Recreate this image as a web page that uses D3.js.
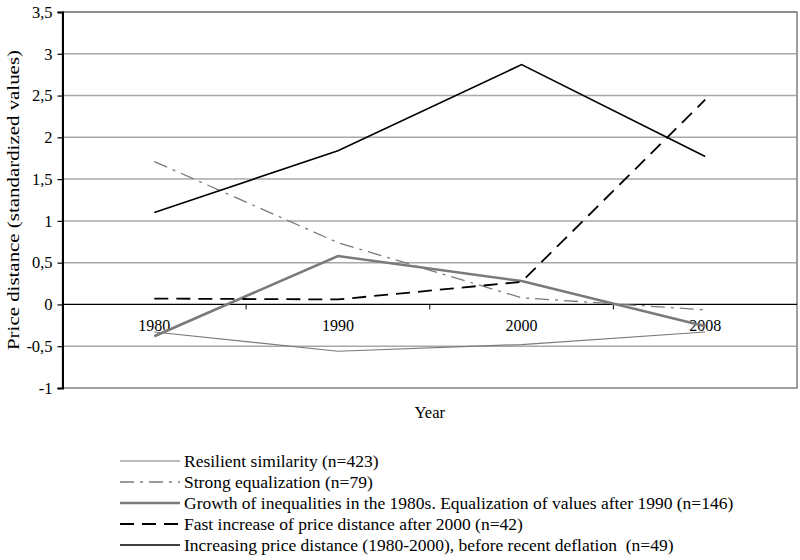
<!DOCTYPE html>
<html>
<head>
<meta charset="utf-8">
<script src="https://cdn.jsdelivr.net/npm/d3@7"></script>
<style>
  body { margin: 0; background: #fff; }
</style>
</head>
<body>
<div id="chart"></div>
<script>
// Data
const years = ['1980', '1990', '2000', '2008']
const yTicks = [-1, -0.5, 0, 0.5, 1, 1.5, 2, 2.5, 3, 3.5]

const resilient = [-0.33, -0.56, -0.48, -0.33]
const strongEq = [1.71, 0.74, 0.08, -0.065]
const growth = [-0.38, 0.58, 0.28, -0.26]
const fastIncrease = [0.07, 0.06, 0.27, 2.45]
const increasing = [1.1, 1.84, 2.87, 1.77]

const seriesNames = [
  'Resilient similarity (n=423)',
  'Strong equalization (n=79)',
  'Growth of inequalities in the 1980s. Equalization of values after 1990 (n=146)',
  'Fast increase of price distance after 2000 (n=42)',
  'Increasing price distance (1980-2000), before recent deflation  (n=49)'
]

const series = [
  { name: seriesNames[0], values: resilient, color: '#7a7a7a', width: 1.2, dash: null },
  { name: seriesNames[1], values: strongEq, color: '#7a7a7a', width: 1.3, dash: '14,6,3,6' },
  { name: seriesNames[2], values: growth, color: '#7a7a7a', width: 2.6, dash: null },
  { name: seriesNames[3], values: fastIncrease, color: '#000', width: 1.8, dash: '14,8' },
  { name: seriesNames[4], values: increasing, color: '#000', width: 1.6, dash: null }
]

const FONT = '"Liberation Serif", "Times New Roman", "DejaVu Serif", serif'

// Dimensions
let dimensions = {
  width: 800,
  height: 560,
  margin: { top: 12, bottom: 172, left: 62.5, right: 3 }
}

const svg = d3.select('#chart')
  .append('svg')
  .attr('width', dimensions.width)
  .attr('height', dimensions.height)
  .attr('font-family', FONT)

const cw = dimensions.width - dimensions.margin.left - dimensions.margin.right
const ch = dimensions.height - dimensions.margin.top - dimensions.margin.bottom

const container = svg.append('g')
  .attr('transform', `translate(${dimensions.margin.left},${dimensions.margin.top})`)

// Scales
const xScale = d3.scaleBand()
  .domain(years)
  .range([0, cw])
  .padding(0)

const yScale = d3.scaleLinear()
  .domain([-1, 3.5])
  .range([ch, 0])

const xMid = d => xScale(d) + xScale.bandwidth() / 2

// Gridlines
container.append('g')
  .selectAll('line')
  .data(yTicks.filter(t => t !== 0 && t !== -1))
  .join('line')
  .attr('x1', 0)
  .attr('x2', cw)
  .attr('y1', d => yScale(d))
  .attr('y2', d => yScale(d))
  .attr('stroke', '#a8a8a8')
  .attr('stroke-width', 1.5)

// Plot border
container.append('rect')
  .attr('x', 0)
  .attr('y', 0)
  .attr('width', cw)
  .attr('height', ch)
  .attr('fill', 'none')
  .attr('stroke', '#7f7f7f')
  .attr('stroke-width', 1.5)

// Y axis
const yAxis = d3.axisLeft(yScale)
  .tickValues(yTicks)
  .tickSize(5)
  .tickPadding(5)
  .tickFormat(d => String(d).replace('.', ','))

const yAxisGroup = container.append('g').call(yAxis)
  .attr('font-family', FONT)
yAxisGroup.select('.domain').attr('stroke', '#000').attr('stroke-width', 2)
yAxisGroup.selectAll('.tick line').attr('stroke', '#000').attr('stroke-width', 1.2)
yAxisGroup.selectAll('text')
  .attr('font-size', '16.5px')
  .attr('font-family', FONT)

// X axis on the zero line
const xAxisGroup = container.append('g')
  .attr('transform', `translate(0,${yScale(0)})`)

xAxisGroup.append('line')
  .attr('x1', 0)
  .attr('x2', cw)
  .attr('stroke', '#000')
  .attr('stroke-width', 1.2)

xAxisGroup.selectAll('.btick')
  .data(years.slice(1))
  .join('line')
  .attr('class', 'btick')
  .attr('x1', d => xScale(d))
  .attr('x2', d => xScale(d))
  .attr('y1', 0)
  .attr('y2', 5)
  .attr('stroke', '#000')
  .attr('stroke-width', 1)

xAxisGroup.selectAll('.xlabel')
  .data(years)
  .join('text')
  .attr('class', 'xlabel')
  .attr('x', d => xMid(d))
  .attr('y', 27)
  .attr('font-size', '16px')
  .attr('text-anchor', 'middle')
  .text(d => d)

// Lines
const line = d3.line()
  .x((d, i) => xMid(years[i]))
  .y(d => yScale(d))

container.append('g')
  .selectAll('path')
  .data(series)
  .join('path')
  .attr('d', d => line(d.values))
  .attr('fill', 'none')
  .attr('stroke', d => d.color)
  .attr('stroke-width', d => d.width)
  .attr('stroke-dasharray', d => d.dash)

// Axis titles
svg.append('text')
  .attr('x', dimensions.margin.left + cw / 2)
  .attr('y', 418)
  .attr('font-size', '16.5px')
  .attr('text-anchor', 'middle')
  .text('Year')

svg.append('text')
  .attr('transform', 'translate(19,200) rotate(-90)')
  .attr('font-size', '17px')
  .attr('text-anchor', 'middle')
  .attr('textLength', 300)
  .attr('lengthAdjust', 'spacingAndGlyphs')
  .text('Price distance (standardized values)')

// Legend
const legend = svg.append('g')
  .attr('transform', 'translate(120,461)')

const rows = legend.selectAll('g')
  .data(series)
  .join('g')
  .attr('transform', (d, i) => `translate(0,${i * 21})`)

rows.append('line')
  .attr('x1', 0)
  .attr('x2', 60)
  .attr('stroke', d => d.color)
  .attr('stroke-width', d => d.width)
  .attr('stroke-dasharray', d => d.dash)

rows.append('text')
  .attr('x', 64)
  .attr('y', 5.5)
  .attr('font-size', '17.5px')
  .attr('xml:space', 'preserve')
  .text(d => d.name)
</script>
</body>
</html>
